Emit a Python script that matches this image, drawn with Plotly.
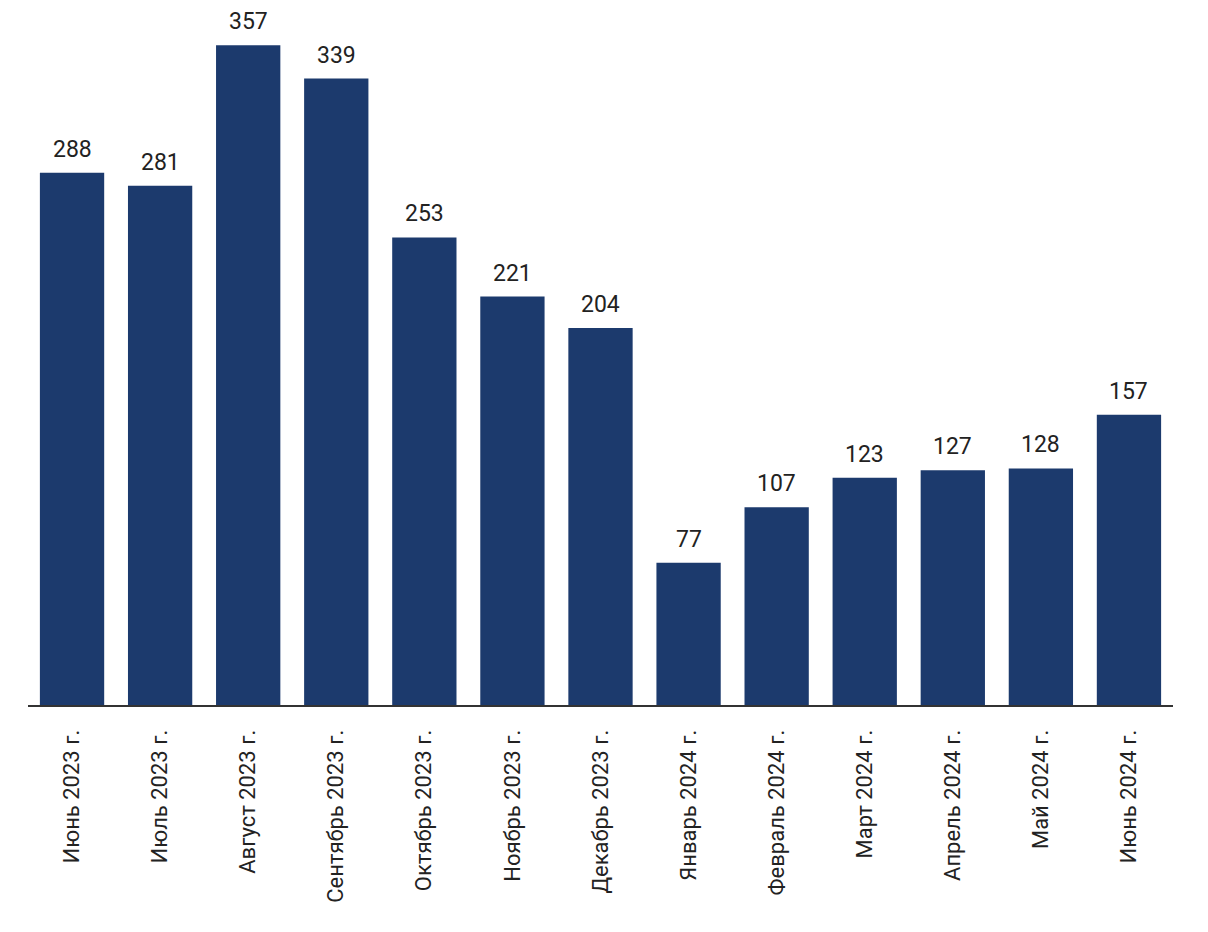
import plotly.graph_objects as go

categories = ["Июнь 2023 г.", "Июль 2023 г.", "Август 2023 г.", "Сентябрь 2023 г.",
              "Октябрь 2023 г.", "Ноябрь 2023 г.", "Декабрь 2023 г.", "Январь 2024 г.",
              "Февраль 2024 г.", "Март 2024 г.", "Апрель 2024 г.", "Май 2024 г.", "Июнь 2024 г."]
values = [288, 281, 357, 339, 253, 221, 204, 77, 107, 123, 127, 128, 157]

BAR_COLOR = "#1c3a6d"

fig = go.Figure()
fig.add_trace(go.Bar(x=categories, y=values, marker=dict(color=BAR_COLOR, line=dict(width=0)),
                     hoverinfo="x+y"))

for c, v in zip(categories, values):
    fig.add_annotation(x=c, y=v, text=str(v), showarrow=False, yanchor="bottom", yshift=8,
                       font=dict(family="Roboto", size=23, color="#222222"))

fig.update_layout(
    width=1208, height=932,
    margin=dict(l=28, r=35, t=0, b=227),
    paper_bgcolor="white", plot_bgcolor="white",
    bargap=0.27, showlegend=False,
    font=dict(family="Roboto", color="#222222"),
)
fig.update_xaxes(showline=True, linecolor="#333333", linewidth=2, tickangle=-90,
                 tickfont=dict(family="Roboto", size=22, color="#222222"),
                 ticks="", ticklabelstandoff=14, showgrid=False)
fig.update_yaxes(range=[0, 381.5], visible=False, showgrid=False, zeroline=False)

fig.write_html("out.html")
